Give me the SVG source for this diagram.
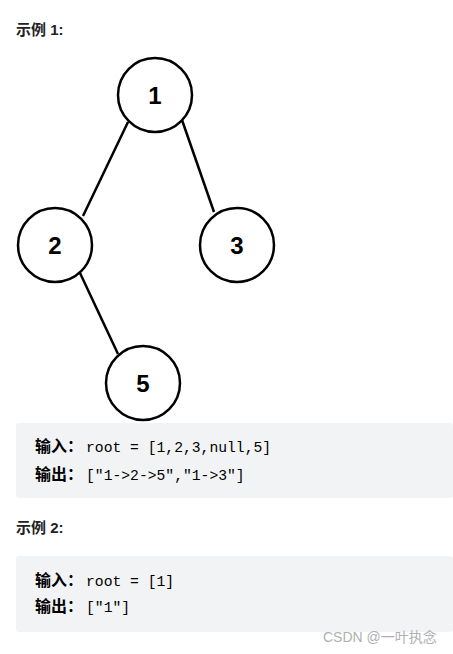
<svg xmlns="http://www.w3.org/2000/svg" width="453" height="654" viewBox="0 0 453 654">
<style>
.h{font-family:"Liberation Sans","Noto Sans CJK SC",sans-serif;font-size:15px;font-weight:bold;fill:#222226}
.node circle{fill:#fff;stroke:#000;stroke-width:2.5}
.node text{font-family:"Liberation Sans",Arial,sans-serif;font-size:24px;font-weight:bold;fill:#000;text-anchor:middle}
.edges line{stroke:#000;stroke-width:2.5}
.code{fill:#f2f3f5}
.cn{font-family:"Noto Sans CJK SC",sans-serif;font-size:16px;font-weight:bold;fill:#000}
.mono{font-family:"Liberation Mono","DejaVu Sans Mono",monospace;font-size:14.7px;fill:#000}
.wm{font-family:"Liberation Sans","Noto Sans CJK SC",sans-serif;font-size:14px;fill:#b0b0b0}
</style>
<rect width="453" height="654" fill="#fff"/>
<text class="h" x="16" y="35">示例 1:</text>
<g id="edges" class="edges">
<line x1="128" y1="122" x2="83" y2="216"/>
<line x1="182" y1="120" x2="214" y2="212"/>
<line x1="80" y1="273" x2="118" y2="354"/>
</g>
<g id="node1" class="node"><circle cx="155" cy="95" r="37"/><text x="155" y="104">1</text></g>
<g id="node2" class="node"><circle cx="55" cy="245" r="37"/><text x="55" y="254">2</text></g>
<g id="node3" class="node"><circle cx="237" cy="245" r="37"/><text x="237" y="254">3</text></g>
<g id="node5" class="node"><circle cx="143" cy="383" r="37"/><text x="143" y="392">5</text></g>
<g id="example1">
<rect class="code" x="16" y="423" width="437" height="75" rx="3"/>
<text x="35" y="452"><tspan class="cn">输入：</tspan><tspan class="mono" x="86">root = [1,2,3,null,5]</tspan></text>
<text x="35" y="480"><tspan class="cn">输出：</tspan><tspan class="mono" x="86">["1-&gt;2-&gt;5","1-&gt;3"]</tspan></text>
</g>
<text class="h" x="16" y="533">示例 2:</text>
<g id="example2">
<rect class="code" x="16" y="556" width="437" height="76" rx="3"/>
<text x="35" y="586"><tspan class="cn">输入：</tspan><tspan class="mono" x="86">root = [1]</tspan></text>
<text x="35" y="612"><tspan class="cn">输出：</tspan><tspan class="mono" x="86">["1"]</tspan></text>
</g>
<text class="wm" x="323" y="642">CSDN @一叶执念</text>
</svg>
